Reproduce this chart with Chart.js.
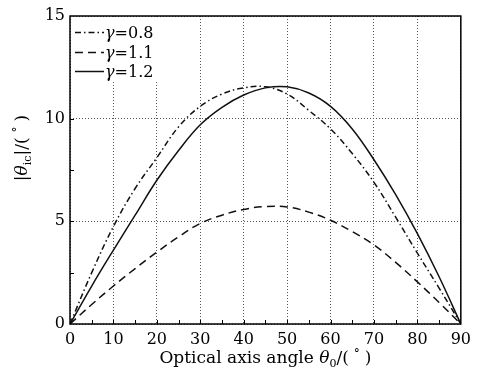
<!DOCTYPE html>
<html>
<head>
<meta charset="utf-8">
<script src="https://cdn.jsdelivr.net/npm/chart.js@4/dist/chart.umd.min.js"></script>
<style>
  html, body { margin: 0; padding: 0; background: #fff; }
  #wrap { width: 477px; height: 372px; position: relative; }
</style>
</head>
<body>
<div id="wrap"><canvas id="chart"></canvas></div>
<script>
// optical axis angle θ0 (deg)
const angles = [0, 5, 10, 15, 20, 25, 30, 35, 40, 45, 50, 55, 60, 65, 70, 75, 80, 85, 90];
// |θic| (deg)
const gamma08 = [0, 2.5, 4.75, 6.6, 8.1, 9.6, 10.6, 11.2, 11.5, 11.55, 11.2, 10.4, 9.5, 8.3, 6.9, 5.2, 3.45, 1.75, 0];
const gamma11 = [0, 0.95, 1.85, 2.7, 3.5, 4.25, 4.9, 5.3, 5.58, 5.72, 5.7, 5.45, 5.05, 4.5, 3.85, 3.0, 2.05, 1.05, 0];
const gamma12 = [0, 1.85, 3.6, 5.3, 7.0, 8.45, 9.7, 10.55, 11.15, 11.5, 11.55, 11.25, 10.6, 9.5, 8.0, 6.3, 4.4, 2.3, 0];
const seriesNames = ['0.8', '1.1', '1.2'];
const xTicks = [0, 10, 20, 30, 40, 50, 60, 70, 80, 90];
const yTicks = [0, 5, 10, 15];

const SERIF = '"DejaVu Serif", serif';

function pts(vals) {
  return angles.map((a, i) => ({ x: a, y: vals[i] }));
}

function lineSet(vals, dash) {
  return {
    data: pts(vals),
    borderColor: '#111',
    borderWidth: 1.5,
    borderDash: dash,
    pointRadius: 0,
    tension: 0.4,
    fill: false
  };
}

// draw a row of text pieces (for subscripts / superscripts)
function drawPieces(ctx, pieces, cx, baseY) {
  let total = 0;
  pieces.forEach(p => {
    ctx.font = p.font;
    p.w = ctx.measureText(p.t).width + (p.gap || 0) * 2;
    total += p.w;
  });
  let x = cx - total / 2;
  ctx.textAlign = 'left';
  ctx.textBaseline = 'alphabetic';
  pieces.forEach(p => {
    ctx.font = p.font;
    ctx.fillText(p.t, x + (p.gap || 0), baseY + (p.dy || 0));
    x += p.w;
  });
}

const framePlugin = {
  id: 'frame',
  afterDatasetsDraw(chart) {
    const { ctx, chartArea: a, scales } = chart;
    const xs = scales.x, ys = scales.y;
    ctx.save();
    ctx.fillStyle = '#000';
    ctx.strokeStyle = '#000';

    // inward ticks
    ctx.lineWidth = 1;
    for (let v = 5; v < 90; v += 5) {
      const px = Math.round(xs.getPixelForValue(v)) + 0.5;
      ctx.beginPath();
      ctx.moveTo(px, a.bottom);
      ctx.lineTo(px, a.bottom - 4);
      ctx.stroke();
    }
    for (let v = 2.5; v < 15; v += 2.5) {
      const py = Math.round(ys.getPixelForValue(v)) + 0.5;
      ctx.beginPath();
      ctx.moveTo(a.left, py);
      ctx.lineTo(a.left + 4, py);
      ctx.stroke();
    }

    // legend (white box inside the plot)
    ctx.fillStyle = '#fff';
    ctx.fillRect(a.left + 1, a.top + 1, 86, 65);
    const rows = [38, 58, 77];
    chart.data.datasets.forEach((ds, i) => {
      const y = rows[i] - 5.5;
      ctx.save();
      ctx.lineWidth = ds.borderWidth;
      ctx.strokeStyle = ds.borderColor;
      ctx.setLineDash(ds.borderDash || []);
      ctx.beginPath();
      ctx.moveTo(75, y);
      ctx.lineTo(104, y);
      ctx.stroke();
      ctx.restore();
      ctx.fillStyle = '#000';
      ctx.textAlign = 'left';
      ctx.textBaseline = 'alphabetic';
      ctx.font = 'italic 16px ' + SERIF;
      ctx.fillText('γ', 105, rows[i]);
      const gw = ctx.measureText('γ').width;
      ctx.font = '16px ' + SERIF;
      ctx.fillText('=' + seriesNames[i], 105 + gw, rows[i]);
    });

    // frame
    ctx.lineWidth = 1.5;
    ctx.strokeRect(a.left, a.top, a.right - a.left, a.bottom - a.top);

    // axis titles
    ctx.fillStyle = '#000';
    drawPieces(ctx, [
      { t: 'Optical axis angle ', font: '17px ' + SERIF },
      { t: 'θ', font: 'italic 17px ' + SERIF },
      { t: '0', font: '11px ' + SERIF, dy: 4 },
      { t: '/(', font: '17px ' + SERIF },
      { t: '°', font: '12px ' + SERIF, dy: -5, gap: 5 },
      { t: ')', font: '17px ' + SERIF }
    ], (a.left + a.right) / 2, 363);

    ctx.save();
    ctx.translate(27, 148);
    ctx.rotate(-Math.PI / 2);
    drawPieces(ctx, [
      { t: '|', font: '17px ' + SERIF },
      { t: 'θ', font: 'italic 17px ' + SERIF },
      { t: 'ic', font: '11px ' + SERIF, dy: 4 },
      { t: '|/(', font: '17px ' + SERIF },
      { t: '°', font: '12px ' + SERIF, dy: -5, gap: 5 },
      { t: ')', font: '17px ' + SERIF }
    ], 0, 0);
    ctx.restore();

    ctx.restore();
  }
};

new Chart(document.getElementById('chart'), {
  type: 'line',
  data: {
    datasets: [
      lineSet(gamma08, [6, 3, 1.5, 3]),
      lineSet(gamma11, [8, 5]),
      lineSet(gamma12, [])
    ]
  },
  options: {
    responsive: true,
    maintainAspectRatio: false,
    animation: false,
    layout: { padding: { left: 0, top: 16, right: 8, bottom: 0 } },
    plugins: {
      legend: { display: false },
      tooltip: { enabled: false }
    },
    scales: {
      x: {
        type: 'linear',
        min: 0,
        max: 90,
        afterBuildTicks: (s) => { s.ticks = xTicks.map(v => ({ value: v })); },
        afterFit: (s) => { s.height = 48; },
        ticks: {
          color: '#000',
          padding: 6,
          maxRotation: 0,
          font: { family: SERIF, size: 16 }
        },
        grid: { color: '#555', lineWidth: 1, drawTicks: false },
        border: { display: false, dash: [1, 2] }
      },
      y: {
        min: 0,
        max: 15,
        afterBuildTicks: (s) => { s.ticks = yTicks.map(v => ({ value: v })); },
        afterFit: (s) => { s.width = 70; },
        ticks: {
          color: '#000',
          padding: 5,
          font: { family: SERIF, size: 16 }
        },
        grid: { color: '#555', lineWidth: 1, drawTicks: false },
        border: { display: false, dash: [1, 2] }
      }
    }
  },
  plugins: [framePlugin]
});
</script>
</body>
</html>
